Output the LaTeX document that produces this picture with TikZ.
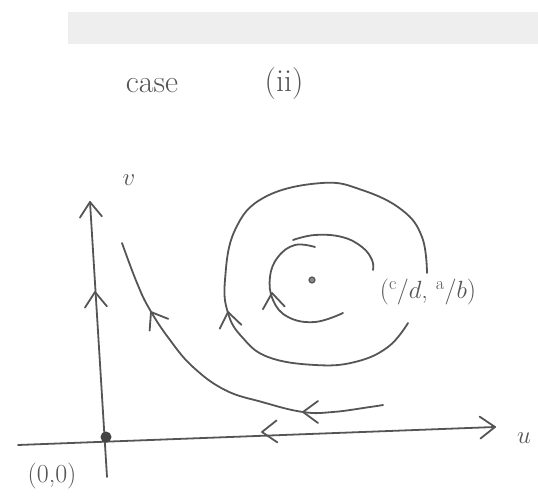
\documentclass[tikz,border=0pt]{standalone}
\definecolor{pen}{HTML}{555555}
\definecolor{band}{HTML}{EEEEEE}
\tikzset{
  pen/.style={draw=pen, line width=1.8pt, line cap=round, line join=round},
  chev/.pic={\draw[pen] (-15pt,11pt) -- (0pt,0pt) -- (-15pt,-11pt);},
  lbl/.style={text=pen, inner sep=0pt},
}
\begin{document}
\begin{tikzpicture}[x=1pt,y=1pt]
\useasboundingbox (0,0) rectangle (538,498);
% light band at top
\fill[band] (68,454) rectangle (538,486);
% title
\node[lbl] (t1) at (152,412) {\fontsize{32}{32}\selectfont case};
\node[lbl] (t2) at (284,414) {\fontsize{32}{32}\selectfont (ii)};
% axes
\coordinate (vb) at (107,21);
\coordinate (vt) at (90,296);
\coordinate (ul) at (18,53);
\coordinate (ur) at (495,71);
\draw[pen] (vb) -- (vt);
\draw[pen] (ul) -- (ur);
\pic[rotate=93.5] at (vt) {chev};
\pic[rotate=93.5] at (95,206) {chev};
\pic[rotate=2.2] at (ur) {chev};
\pic[rotate=182.2] at (262,66) {chev};
% origin
\fill[pen!80!black] (106,61) circle (5.5);
\node[lbl] (v) at (129,318) {\fontsize{30}{30}\selectfont $v$};
\node[lbl] (u) at (524,60) {\fontsize{30}{30}\selectfont $u$};
\node[lbl] (o) at (52,22) {\fontsize{26}{26}\selectfont (0,0)};
% trajectory near axes
\draw[pen] plot[smooth, tension=0.7] coordinates {(383,93) (370,91) (333,86) (303,86) (262,96) (225,108) (193,131) (170,158) (150,188) (137,215) (122,255)};
\pic[rotate=180] at (303,86) {chev};
\pic[rotate=122] at (151,186) {chev};
% outer orbit
\draw[pen] plot[smooth, tension=0.7] coordinates {(408,175) (388,151) (355,136) (315,133) (268,141) (242,161) (228,185) (225,218) (235,268) (265,301) (322,315) (362,308) (402,288) (422,261) (427,225)};
\pic[rotate=100] at (228,186) {chev};
% inner orbit (two strokes)
\draw[pen] plot[smooth, tension=0.7] coordinates {(293,258) (315,263) (342,261) (362,251) (372,238) (373,228)};
\draw[pen] plot[smooth, tension=0.7] coordinates {(343,185) (315,176) (288,181) (273,198) (270,221) (278,241) (295,253) (315,251)};
\pic[rotate=97] at (272,205) {chev};
% equilibrium
\filldraw[draw=pen, fill=pen!70, line width=1.2pt] (312,218) circle (3);
\node[lbl] (eq) at (428,206) {\fontsize{26}{26}\selectfont (\textsuperscript{c}/$d$, \textsuperscript{a}/$b$)};
\end{tikzpicture}
\end{document}
